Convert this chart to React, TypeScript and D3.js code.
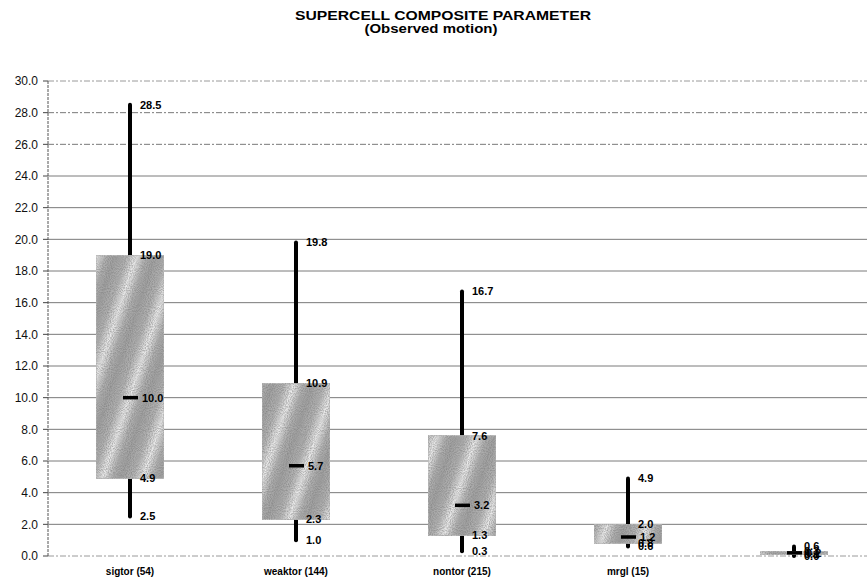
import React from "react";
import * as d3 from "d3";

const categories = ["sigtor (54)", "weaktor (144)", "nontor (215)", "mrgl (15)", ""];
const mins = [2.5, 1.0, 0.3, 0.6, 0.0];
const q1s = [4.9, 2.3, 1.3, 0.8, 0.1];
const medians = [10.0, 5.7, 3.2, 1.2, 0.2];
const q3s = [19.0, 10.9, 7.6, 2.0, 0.3];
const maxs = [28.5, 19.8, 16.7, 4.9, 0.6];
const yTicks = [0, 2, 4, 6, 8, 10, 12, 14, 16, 18, 20, 22, 24, 26, 28, 30];

const W = 867;
const H = 582;
const FONT = "'Liberation Sans', Arial, sans-serif";

export default function App() {
  const y = d3.scaleLinear().domain([0, 30]).range([556, 81]);
  const x = d3.scaleBand<string>().domain(categories.map((c, i) => String(i))).range([47, 877]);
  const bw = x.bandwidth();
  const boxW = 68;
  const fmt = d3.format(".1f");

  return (
    <svg width={W} height={H} style={{ position: "absolute", left: 0, top: 0, background: "#fff" }}>
      <defs>
        <linearGradient id="wave" gradientUnits="userSpaceOnUse" x1="0" y1="0" x2="36" y2="12" spreadMethod="repeat">
          <stop offset="0" stopColor="#a2a2a2" />
          <stop offset="0.3" stopColor="#b4b4b4" />
          <stop offset="0.55" stopColor="#ececec" />
          <stop offset="0.8" stopColor="#b0b0b0" />
          <stop offset="1" stopColor="#a2a2a2" />
        </linearGradient>
        <filter id="grain" x="0" y="0" width="100%" height="100%">
          <feTurbulence type="fractalNoise" baseFrequency="0.95" numOctaves="1" seed="3" result="noise" />
          <feColorMatrix in="noise" type="matrix"
            values="0 0 0 0 0.2  0 0 0 0 0.2  0 0 0 0 0.2  0 0 0 -1.4 0.95" result="dots" />
          <feComposite in="dots" in2="SourceGraphic" operator="in" result="dotsIn" />
          <feMerge>
            <feMergeNode in="SourceGraphic" />
            <feMergeNode in="dotsIn" />
          </feMerge>
        </filter>
      </defs>

      <text x={443} y={20} textAnchor="middle" fontFamily={FONT} fontWeight="bold" fontSize={12}
        textLength={296} lengthAdjust="spacingAndGlyphs">
        SUPERCELL COMPOSITE PARAMETER
      </text>
      <text x={431} y={33} textAnchor="middle" fontFamily={FONT} fontWeight="bold" fontSize={12}
        textLength={133} lengthAdjust="spacingAndGlyphs">
        (Observed motion)
      </text>

      {yTicks.map((t) => (
        <g key={t}>
          <line x1={48} x2={W} y1={y(t)} y2={y(t)} stroke={t === 0 || t === 30 ? "#9a9a9a" : "#7a7a7a"}
            strokeWidth={1} strokeDasharray={t === 0 || t === 30 || t === 28 || t === 26 ? "6 2 2 2" : undefined} />
          <line x1={43} x2={48} y1={y(t)} y2={y(t)} stroke="#444" />
          <text x={38} y={y(t)} dy="0.35em" textAnchor="end" fontFamily={FONT} fontSize={12} fill="#111">
            {fmt(t)}
          </text>
        </g>
      ))}
      <line x1={48} x2={48} y1={y(30)} y2={y(0)} stroke="#555" strokeDasharray="3 1" />

      {categories.map((c, i) => {
        const cx = (x(String(i)) as number) + bw / 2;
        const vals = [maxs[i], q3s[i], medians[i], q1s[i], mins[i]];
        return (
          <g key={i}>
            <line x1={cx} x2={cx} y1={y(maxs[i])} y2={y(mins[i])} stroke="#000" strokeWidth={4} strokeLinecap="round" />
            <rect x={cx - boxW / 2} y={y(q3s[i])} width={boxW} height={Math.max(1, y(q1s[i]) - y(q3s[i]))}
              fill="url(#wave)" stroke="#c0c0c0" strokeWidth={1} filter="url(#grain)" />
            <line x1={cx - 7} x2={cx + 8} y1={y(medians[i])} y2={y(medians[i])} stroke="#000" strokeWidth={3.5} />
            {vals.map((v, k) => (
              <text key={k} x={cx + (k === 2 ? 12 : 10)} y={y(v)} dy="0.35em" fontFamily={FONT}
                fontWeight="bold" fontSize={11} fill="#000">
                {fmt(v)}
              </text>
            ))}
            <text x={cx} y={575} textAnchor="middle" fontFamily={FONT} fontWeight="bold" fontSize={10}>
              {c}
            </text>
          </g>
        );
      })}
    </svg>
  );
}
